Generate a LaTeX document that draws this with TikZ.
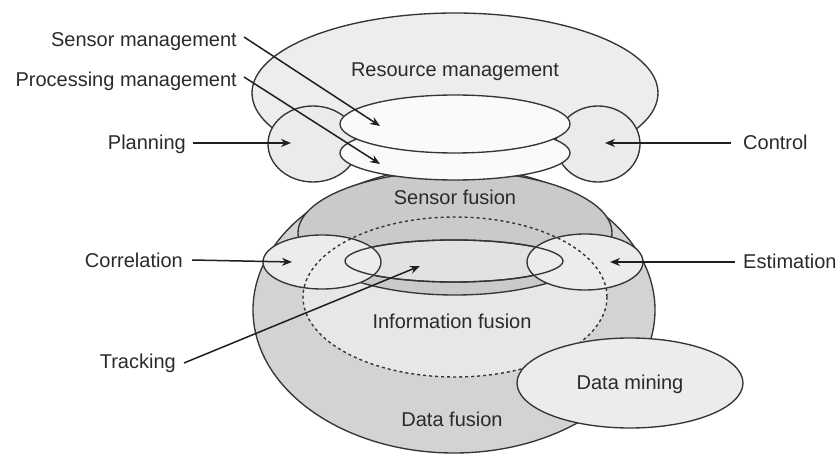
\documentclass[tikz,border=0pt]{standalone}
\usepackage{fontspec}
\setmainfont{Liberation Sans}
\usetikzlibrary{shapes.geometric,arrows.meta}
\definecolor{edgec}{HTML}{353535}
\definecolor{txtc}{HTML}{2A2A2A}
\definecolor{rmfill}{HTML}{EDEDED}
\definecolor{sidefill}{HTML}{EBEBEB}
\definecolor{whitefill}{HTML}{FAFAFA}
\definecolor{dffill}{HTML}{D3D3D3}
\definecolor{iffill}{HTML}{E7E7E7}
\definecolor{sffill}{HTML}{CACACA}
\definecolor{trfill}{HTML}{E2E2E2}
\definecolor{lightfill}{HTML}{ECECEC}
\begin{document}
\begin{tikzpicture}[x=1pt,y=-1pt,
  blob/.style={ellipse, draw=edgec, line width=1.35pt, inner sep=0pt},
  lbl/.style={font=\fontsize{20}{24}\selectfont, text=txtc, inner sep=0pt, text height=12.5pt, text depth=0pt},
  arr/.style={draw=black!88, line width=1.5pt, -{Stealth[length=10pt,width=8pt]}}]
\useasboundingbox (0,0) rectangle (839,454);

% data fusion
\node[blob, fill=dffill, minimum width=402pt, minimum height=286pt] (df) at (454,310) {};
% information fusion fill
\node[ellipse, fill=iffill, inner sep=0pt, minimum width=304pt, minimum height=160pt] (iffill) at (455,297) {};
% sensor fusion
\node[blob, fill=sffill, minimum width=314pt, minimum height=124pt] (sf) at (455,233) {};
% tracking
\node[blob, fill=trfill, minimum width=218pt, minimum height=42pt] (tr) at (454,261) {};
% correlation and estimation
\node[blob, fill=lightfill, minimum width=118pt, minimum height=54pt] (co) at (322,262) {};
\node[blob, fill=lightfill, minimum width=116pt, minimum height=56pt] (es) at (585,262) {};
% tracking outline on top
\node[blob, minimum width=218pt, minimum height=42pt] (tro) at (454,261) {};
% information fusion dashed outline
\node[ellipse, draw=edgec, line width=1.4pt, dash pattern=on 3pt off 3pt, inner sep=0pt, minimum width=304pt, minimum height=160pt] (if) at (455,297) {};
% data mining
\node[blob, fill=lightfill, minimum width=226pt, minimum height=90pt] (dm) at (630,383) {};

% resource management group
\node[blob, fill=rmfill, minimum width=406pt, minimum height=160pt] (rm) at (455,93) {};
\node[blob, fill=sidefill, minimum width=90pt, minimum height=76pt] (pl) at (313,144) {};
\node[blob, fill=sidefill, minimum width=84pt, minimum height=76pt] (ct) at (598,144) {};
\node[blob, fill=whitefill, minimum width=230pt, minimum height=54pt] (pm) at (455,153) {};
\node[blob, fill=whitefill, minimum width=230pt, minimum height=58pt] (sm) at (455,124) {};

% inner texts
\node[lbl] (rmt) at (455,70) {Resource management};
\node[lbl] (sft) at (455,198) {Sensor fusion};
\node[lbl] (ift) at (452,322) {Information fusion};
\node[lbl] (dft) at (452,420) {Data fusion};
\node[lbl] (dmt) at (630,383) {Data mining};

% outer labels
\node[lbl, anchor=east] (sml) at (237,40) {Sensor management};
\node[lbl, anchor=east] (pml) at (237,80) {Processing management};
\node[lbl, anchor=east] (pll) at (186,143) {Planning};
\node[lbl, anchor=west] (ctl) at (743,143) {Control};
\node[lbl, anchor=east] (col) at (183,261) {Correlation};
\node[lbl, anchor=west] (esl) at (743,262) {Estimation};
\node[lbl, anchor=east] (trl) at (176,362) {Tracking};

% arrow tips
\coordinate (smtip) at (380,126);
\coordinate (pmtip) at (380,164);
\coordinate (pltip) at (291,143);
\coordinate (cttip) at (605,143);
\coordinate (cotip) at (292,262);
\coordinate (estip) at (610,262);
\coordinate (trtip) at (420,266);

\draw[arr] ([xshift=7pt,yshift=3pt]sml.east) -- (smtip);
\draw[arr] ([xshift=7pt,yshift=3pt]pml.east) -- (pmtip);
\draw[arr] ([xshift=7pt]pll.east) -- (pltip);
\draw[arr] ([xshift=-12pt]ctl.west) -- (cttip);
\draw[arr] ([xshift=9pt,yshift=1pt]col.east) -- (cotip);
\draw[arr] ([xshift=-8pt]esl.west) -- (estip);
\draw[arr] ([xshift=8pt,yshift=-1pt]trl.east) -- (trtip);
\end{tikzpicture}
\end{document}
